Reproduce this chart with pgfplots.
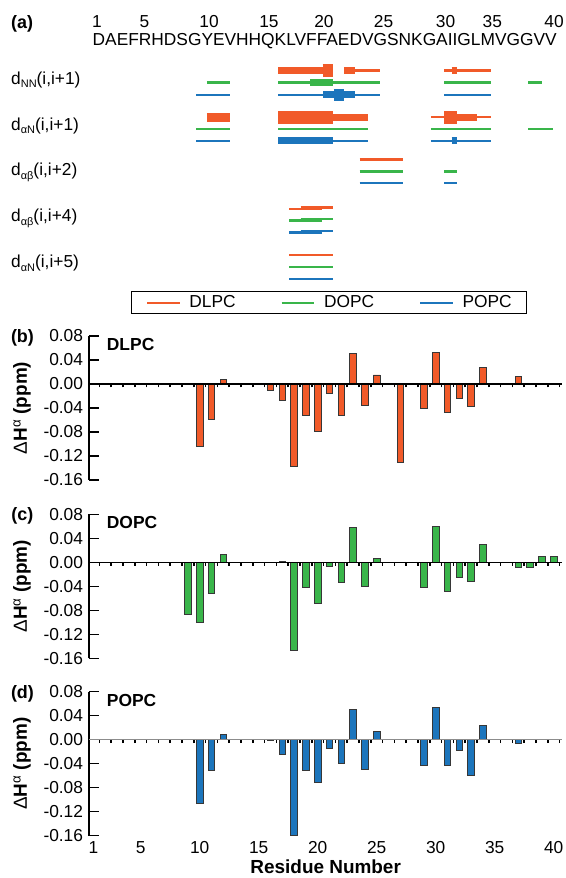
\documentclass[border=0pt]{standalone}
\usepackage{pgfplots}
\pgfplotsset{compat=1.18}
\usepackage{fontspec}
\setmainfont{Liberation Sans}
\definecolor{cDL}{RGB}{241,90,41}
\definecolor{cDO}{RGB}{57,181,74}
\definecolor{cPO}{RGB}{28,117,188}
\definecolor{edge}{RGB}{55,55,55}
\newcommand{\sub}[1]{\raisebox{-3.5bp}{\fontsize{11}{12}\selectfont #1}}
\newcommand{\lab}{\fontsize{19}{22}\selectfont\bfseries}
\pgfplotsset{
  noe/.style={forget plot, line cap=butt, mark=none},
  thn/.style={noe, line width=2.4bp},
  med/.style={noe, line width=7bp},
  mth/.style={noe, line width=8.5bp},
  thk/.style={noe, line width=12.5bp},
  bars/.style={ybar, bar width=6.5bp, bar shift=0bp, draw=edge, line width=0.8bp},
  panel/.style={
    scale only axis, width=473.4bp, height=144bp,
    xmin=0.62, xmax=40.74, ymin=-0.16, ymax=0.08,
    /pgf/number format/assume math mode=true,
    axis y line=left, axis x line=bottom,
    x axis line style={draw=none},
    xtick style={draw=none},
    y axis line style={-, line width=1.4bp, black},
    ytick={-0.16,-0.12,-0.08,-0.04,0,0.04,0.08},
    ytick style={line width=1.4bp, black},
    tick align=inside, major tick length=9.5bp,
    yticklabel style={/pgf/number format/.cd, fixed, fixed zerofill, precision=2, assume math mode=true},
    ylabel={\textmd{Δ}H\textsuperscript{\textmd{α}} (ppm)},
    ylabel style={font=\lab, at={(axis description cs:-0.1415,0.5)}, anchor=center},
    clip=false,
  },
  zline/.style={
    scale only axis, width=473.4bp, height=144bp,
    xmin=0.62, xmax=40.74, ymin=-0.16, ymax=0.08,
    axis x line=middle, axis y line=none,
    x axis line style={-, line width=1.4bp, #1},
    xtick={1.5,2.5,...,40.5}, xticklabels={},
    xtick style={line width=1.5bp, black},
    tick align=outside, major tick length=3.5bp,
  },
}
\begin{document}
\fontsize{17.4}{20}\selectfont
\begin{tikzpicture}
\path[use as bounding box] (0,0) rectangle (566bp,878bp);
% ---------------- (a) NOE panel ----------------
\begin{axis}[scale only axis, width=473.4bp, height=330bp, at={(89bp,548bp)}, anchor=south west,
  xmin=0.62, xmax=40.74, ymin=0, ymax=330, y dir=reverse, hide axis, clip=false,
  legend style={at={(axis cs:20.95,302.7)}, anchor=center, draw=black, line width=1.3bp,
     legend columns=3, inner xsep=14.5bp, inner ysep=3.5bp, nodes={inner sep=0bp},
     /tikz/every odd column/.append style={column sep=8.8bp},
     /tikz/every even column/.append style={column sep=45bp}},
  legend image code/.code={\draw[#1] (0bp,0bp) -- (32.6bp,0bp);},
]
% dNN(i,i+1)
\addplot[cDL, med] coordinates {(16.66,70.7) (20.42,70.7)};
\addplot[cDL, thk] coordinates {(20.42,70.7) (21.32,70.7)};
\addplot[cDL, med] coordinates {(22.25,70.7) (23.16,70.7)};
\addplot[cDL, thn] coordinates {(23.16,70.7) (25.28,70.7)};
\addplot[cDL, thn] coordinates {(30.73,70.7) (34.66,70.7)};
\addplot[cDL, med] coordinates {(31.36,70.7) (31.83,70.7)};
\addplot[cDO, thn] coordinates {(10.60,82.7) (12.60,82.7)};
\addplot[cDO, thn] coordinates {(16.66,82.7) (25.28,82.7)};
\addplot[cDO, med] coordinates {(19.35,82.7) (21.32,82.7)};
\addplot[cDO, thn] coordinates {(30.73,82.7) (34.66,82.7)};
\addplot[cDO, thn] coordinates {(37.85,82.7) (38.98,82.7)};
\addplot[cPO, thn] coordinates {(9.69,95) (12.60,95)};
\addplot[cPO, thn] coordinates {(16.66,95) (25.28,95)};
\addplot[cPO, med] coordinates {(20.48,95) (23.17,95)};
\addplot[cPO, thk] coordinates {(21.37,95) (22.23,95)};
\addplot[cPO, thn] coordinates {(30.73,95) (34.66,95)};
% daN(i,i+1)
\addplot[cDL, mth] coordinates {(10.60,117.3) (12.60,117.3)};
\addplot[cDL, thk] coordinates {(16.66,117.3) (21.32,117.3)};
\addplot[cDL, med] coordinates {(21.32,117.3) (24.29,117.3)};
\addplot[cDL, thn] coordinates {(29.60,117.3) (34.66,117.3)};
\addplot[cDL, thk] coordinates {(30.73,117.3) (31.83,117.3)};
\addplot[cDL, med] coordinates {(31.83,117.3) (33.53,117.3)};
\addplot[cDO, thn] coordinates {(9.69,129) (12.60,129)};
\addplot[cDO, thn] coordinates {(16.66,129) (24.29,129)};
\addplot[cDO, thn] coordinates {(29.60,129) (34.66,129)};
\addplot[cDO, thn] coordinates {(37.85,129) (39.97,129)};
\addplot[cPO, thn] coordinates {(9.69,141) (12.60,141)};
\addplot[cPO, med] coordinates {(16.66,141) (21.32,141)};
\addplot[cPO, thn] coordinates {(21.32,141) (24.29,141)};
\addplot[cPO, thn] coordinates {(29.60,141) (34.66,141)};
\addplot[cPO, med] coordinates {(31.36,141) (31.83,141)};
% dab(i,i+2)
\addplot[cDL, thn] coordinates {(23.55,159.5) (27.20,159.5)};
\addplot[cDO, thn] coordinates {(23.55,171.5) (27.20,171.5)};
\addplot[cDO, thn] coordinates {(30.73,171.5) (31.78,171.5)};
\addplot[cPO, thn] coordinates {(23.55,183.3) (27.20,183.3)};
\addplot[cPO, thn] coordinates {(30.73,183.3) (31.78,183.3)};
% dab(i,i+4)
\addplot[cDL, thn] coordinates {(17.57,209.0) (20.34,209.0)};
\addplot[cDL, thn] coordinates {(18.56,207.6) (21.27,207.6)};
\addplot[cDO, thn] coordinates {(17.57,220.7) (20.34,220.7)};
\addplot[cDO, thn] coordinates {(18.56,219.3) (21.27,219.3)};
\addplot[cPO, thn] coordinates {(17.57,232.7) (20.34,232.7)};
\addplot[cPO, thn] coordinates {(18.56,231.3) (21.27,231.3)};
% daN(i,i+5)
\addplot[cDL, thn] coordinates {(17.57,255) (21.27,255)};
\addplot[cDO, thn] coordinates {(17.57,267) (21.27,267)};
\addplot[cPO, thn] coordinates {(17.57,279) (21.27,279)};
% legend
\addlegendimage{cDL, line width=2bp}
\addlegendentry{DLPC}
\addlegendimage{cDO, line width=2bp}
\addlegendentry{DOPC}
\addlegendimage{cPO, line width=2bp}
\addlegendentry{POPC}
% texts
\node[anchor=west, inner sep=0pt, font=\fontsize{18}{20}\selectfont\bfseries] at (axis cs:-5.99,24) {(a)};
\node[anchor=west, inner sep=0pt] at (axis cs:0.915,40.7) {DAEFRHDSGYEVHHQKLVFFAEDVGSNKGAIIGLMVGGVV};
\node[inner sep=0pt] at (axis cs:1.30,21.7) {1};
\node[inner sep=0pt] at (axis cs:5.31,21.7) {5};
\node[inner sep=0pt] at (axis cs:10.79,21.7) {10};
\node[inner sep=0pt] at (axis cs:15.87,21.7) {15};
\node[inner sep=0pt] at (axis cs:20.53,21.7) {20};
\node[inner sep=0pt] at (axis cs:25.58,21.7) {25};
\node[inner sep=0pt] at (axis cs:30.84,21.7) {30};
\node[inner sep=0pt] at (axis cs:34.80,21.7) {35};
\node[inner sep=0pt] at (axis cs:40.03,21.7) {40};
\node[anchor=west, inner sep=0pt] at (axis cs:-5.99,80) {d\sub{NN}(i,i+1)};
\node[anchor=west, inner sep=0pt] at (axis cs:-5.99,126) {d\sub{αN}(i,i+1)};
\node[anchor=west, inner sep=0pt] at (axis cs:-5.99,172.3) {d\sub{αβ}(i,i+2)};
\node[anchor=west, inner sep=0pt] at (axis cs:-5.99,218.3) {d\sub{αβ}(i,i+4)};
\node[anchor=west, inner sep=0pt] at (axis cs:-5.99,263.3) {d\sub{αN}(i,i+5)};
\end{axis}
% ---------------- (b) DLPC ----------------
\begin{axis}[panel, at={(89bp,398bp)}, anchor=south west, xtick=\empty]
\addplot[bars, fill=cDL] coordinates {(10,-0.104) (11,-0.059) (12,0.008) (16,-0.010) (17,-0.027) (18,-0.137) (19,-0.052) (20,-0.079) (21,-0.016) (22,-0.052) (23,0.051) (24,-0.035) (25,0.015) (27,-0.131) (29,-0.041) (30,0.053) (31,-0.048) (32,-0.024) (33,-0.038) (34,0.027) (37,0.012)};
\node[anchor=west, inner sep=0pt, font=\fontsize{17.5}{20}\selectfont\bfseries] at (axis cs:2.12,0.065) {DLPC};
\node[inner sep=0pt, font=\fontsize{18}{20}\selectfont\bfseries] at (axis cs:-5.02,0.077) {(b)};
\end{axis}
\begin{axis}[zline=black, at={(89bp,398bp)}, anchor=south west]
\addplot[draw=none] coordinates {(1,0)};
\end{axis}
% ---------------- (c) DOPC ----------------
\begin{axis}[panel, at={(89bp,219.7bp)}, anchor=south west, xtick=\empty]
\addplot[bars, fill=cDO] coordinates {(9,-0.087) (10,-0.100) (11,-0.052) (12,0.013) (17,0.001) (18,-0.147) (19,-0.042) (20,-0.069) (21,-0.007) (22,-0.033) (23,0.058) (24,-0.040) (25,0.007) (29,-0.042) (30,0.059) (31,-0.048) (32,-0.026) (33,-0.032) (34,0.029) (37,-0.009) (38,-0.009) (39,0.010) (40,0.010)};
\node[anchor=west, inner sep=0pt, font=\fontsize{17.5}{20}\selectfont\bfseries] at (axis cs:2.12,0.066) {DOPC};
\node[inner sep=0pt, font=\fontsize{18}{20}\selectfont\bfseries] at (axis cs:-5.02,0.077) {(c)};
\end{axis}
\begin{axis}[zline=black, at={(89bp,219.7bp)}, anchor=south west]
\addplot[draw=none] coordinates {(1,0)};
\end{axis}
% ---------------- (d) POPC ----------------
\begin{axis}[panel, at={(89bp,42.3bp)}, anchor=south west,
  xtick={1,5,10,15,20,25,30,35,40},
  xlabel={Residue Number},
  xlabel style={font=\lab, inner sep=0pt, at={(axis description cs:0.5,-0.2174)}, anchor=center}]
\addplot[bars, fill=cPO] coordinates {(9,0.001) (10,-0.106) (11,-0.051) (12,0.009) (16,-0.001) (17,-0.025) (18,-0.159) (19,-0.051) (20,-0.072) (21,-0.015) (22,-0.039) (23,0.051) (24,-0.050) (25,0.013) (29,-0.043) (30,0.053) (31,-0.043) (32,-0.018) (33,-0.059) (34,0.024) (37,-0.007)};
\node[anchor=west, inner sep=0pt, font=\fontsize{17.5}{20}\selectfont\bfseries] at (axis cs:2.12,0.065) {POPC};
\node[inner sep=0pt, font=\fontsize{18}{20}\selectfont\bfseries] at (axis cs:-5.02,0.077) {(d)};
\end{axis}
\begin{axis}[zline=black!45, at={(89bp,42.3bp)}, anchor=south west]
\addplot[draw=none] coordinates {(1,0)};
\end{axis}
\end{tikzpicture}
\end{document}
